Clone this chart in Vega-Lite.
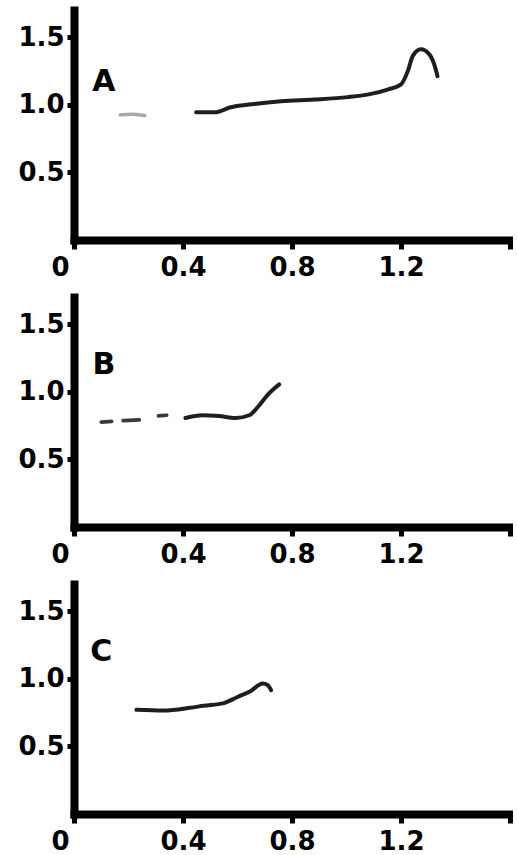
{
  "$schema": "https://vega.github.io/schema/vega-lite/v6.json",
  "background": "white",
  "padding": {"left": 17, "top": 10, "right": 0, "bottom": 0},
  "spacing": 57,
  "bounds": "flush",
  "datasets": {
    "curves": [
      {"panel": "A", "seg": "a1", "trace": "faint", "i": 1, "x": 0.17, "y": 0.925},
      {"panel": "A", "seg": "a1", "trace": "faint", "i": 2, "x": 0.21, "y": 0.93},
      {"panel": "A", "seg": "a1", "trace": "faint", "i": 3, "x": 0.26, "y": 0.92},
      {"panel": "A", "seg": "a2", "trace": "solid", "i": 1, "x": 0.448, "y": 0.944},
      {"panel": "A", "seg": "a2", "trace": "solid", "i": 2, "x": 0.515, "y": 0.944},
      {"panel": "A", "seg": "a2", "trace": "solid", "i": 3, "x": 0.576, "y": 0.981},
      {"panel": "A", "seg": "a2", "trace": "solid", "i": 4, "x": 0.662, "y": 1.006},
      {"panel": "A", "seg": "a2", "trace": "solid", "i": 5, "x": 0.76, "y": 1.026},
      {"panel": "A", "seg": "a2", "trace": "solid", "i": 6, "x": 0.881, "y": 1.038},
      {"panel": "A", "seg": "a2", "trace": "solid", "i": 7, "x": 1.004, "y": 1.056},
      {"panel": "A", "seg": "a2", "trace": "solid", "i": 8, "x": 1.09, "y": 1.08},
      {"panel": "A", "seg": "a2", "trace": "solid", "i": 9, "x": 1.151, "y": 1.112},
      {"panel": "A", "seg": "a2", "trace": "solid", "i": 10, "x": 1.2, "y": 1.15},
      {"panel": "A", "seg": "a2", "trace": "solid", "i": 11, "x": 1.225, "y": 1.248},
      {"panel": "A", "seg": "a2", "trace": "solid", "i": 12, "x": 1.243, "y": 1.359},
      {"panel": "A", "seg": "a2", "trace": "solid", "i": 13, "x": 1.273, "y": 1.409},
      {"panel": "A", "seg": "a2", "trace": "solid", "i": 14, "x": 1.304, "y": 1.372},
      {"panel": "A", "seg": "a2", "trace": "solid", "i": 15, "x": 1.322, "y": 1.298},
      {"panel": "A", "seg": "a2", "trace": "solid", "i": 16, "x": 1.334, "y": 1.211},
      {"panel": "B", "seg": "b1", "trace": "dash", "i": 1, "x": 0.10, "y": 0.776},
      {"panel": "B", "seg": "b1", "trace": "dash", "i": 2, "x": 0.138, "y": 0.78},
      {"panel": "B", "seg": "b2", "trace": "dash", "i": 1, "x": 0.18, "y": 0.786},
      {"panel": "B", "seg": "b2", "trace": "dash", "i": 2, "x": 0.24, "y": 0.792},
      {"panel": "B", "seg": "b3", "trace": "dash", "i": 1, "x": 0.31, "y": 0.822},
      {"panel": "B", "seg": "b3", "trace": "dash", "i": 2, "x": 0.34, "y": 0.826},
      {"panel": "B", "seg": "b4", "trace": "solid", "i": 1, "x": 0.409, "y": 0.806},
      {"panel": "B", "seg": "b4", "trace": "solid", "i": 2, "x": 0.47, "y": 0.826},
      {"panel": "B", "seg": "b4", "trace": "solid", "i": 3, "x": 0.532, "y": 0.82},
      {"panel": "B", "seg": "b4", "trace": "solid", "i": 4, "x": 0.593, "y": 0.806},
      {"panel": "B", "seg": "b4", "trace": "solid", "i": 5, "x": 0.643, "y": 0.826},
      {"panel": "B", "seg": "b4", "trace": "solid", "i": 6, "x": 0.68, "y": 0.90},
      {"panel": "B", "seg": "b4", "trace": "solid", "i": 7, "x": 0.71, "y": 0.975},
      {"panel": "B", "seg": "b4", "trace": "solid", "i": 8, "x": 0.753, "y": 1.054},
      {"panel": "C", "seg": "c1", "trace": "solid", "i": 1, "x": 0.229, "y": 0.77},
      {"panel": "C", "seg": "c1", "trace": "solid", "i": 2, "x": 0.328, "y": 0.765},
      {"panel": "C", "seg": "c1", "trace": "solid", "i": 3, "x": 0.426, "y": 0.785},
      {"panel": "C", "seg": "c1", "trace": "solid", "i": 4, "x": 0.476, "y": 0.80},
      {"panel": "C", "seg": "c1", "trace": "solid", "i": 5, "x": 0.55, "y": 0.82},
      {"panel": "C", "seg": "c1", "trace": "solid", "i": 6, "x": 0.60, "y": 0.865},
      {"panel": "C", "seg": "c1", "trace": "solid", "i": 7, "x": 0.649, "y": 0.91},
      {"panel": "C", "seg": "c1", "trace": "solid", "i": 8, "x": 0.692, "y": 0.965},
      {"panel": "C", "seg": "c1", "trace": "solid", "i": 9, "x": 0.711, "y": 0.952},
      {"panel": "C", "seg": "c1", "trace": "solid", "i": 10, "x": 0.723, "y": 0.915}
    ],
    "letters": [
      {"panel": "A", "label": "A", "x": 0.11, "y": 1.17},
      {"panel": "B", "label": "B", "x": 0.11, "y": 1.20},
      {"panel": "C", "label": "C", "x": 0.10, "y": 1.20}
    ]
  },
  "config": {
    "view": {"stroke": null},
    "axis": {
      "grid": false,
      "title": null,
      "domainColor": "black",
      "domainWidth": 8,
      "domainCap": "square",
      "tickColor": "black",
      "tickWidth": 5,
      "labelColor": "black",
      "labelFont": "DejaVu Sans",
      "labelFontWeight": "bold",
      "labelFontSize": 26,
      "labelOverlap": false,
      "labelFlush": false
    }
  },
  "vconcat": [
    {
      "width": 436, "height": 230,
      "layer": [
        {
          "data": {"name": "curves"},
          "transform": [{"filter": "datum.panel === 'A'"}],
          "mark": {"type": "line", "interpolate": "monotone", "strokeCap": "round"},
          "encoding": {
            "x": {"field": "x", "type": "quantitative", "scale": {"domain": [0, 1.6], "nice": false, "zero": false},
              "axis": {"values": [0, 0.4, 0.8, 1.2, 1.6], "tickSize": 9, "labelPadding": 5,
                "labelExpr": "datum.value == 0 ? '0' : (datum.value > 1.5 ? '' : format(datum.value, '.1f'))",
                "labelOffset": {"condition": {"test": "datum.value == 0", "value": -14}, "value": 0}}},
            "y": {"field": "y", "type": "quantitative", "scale": {"domain": [0, 1.7], "nice": false},
              "axis": {"values": [0.5, 1.0, 1.5], "format": ".1f", "tickSize": 7, "labelPadding": 3}},
            "detail": {"field": "seg"},
            "order": {"field": "i"},
            "color": {"field": "trace", "type": "nominal", "scale": {"domain": ["solid", "dash", "faint"], "range": ["#1e1e1e", "#3a3a3a", "#a8a8a8"]}, "legend": null},
            "strokeWidth": {"field": "trace", "type": "nominal", "scale": {"domain": ["solid", "dash", "faint"], "range": [4, 3.5, 2]}, "legend": null}
          }
        },
        {
          "data": {"name": "letters"},
          "transform": [{"filter": "datum.panel === 'A'"}],
          "mark": {"type": "text", "font": "DejaVu Sans", "fontWeight": "bold", "fontSize": 30, "align": "center", "baseline": "middle", "color": "black"},
          "encoding": {
            "x": {"field": "x", "type": "quantitative"},
            "y": {"field": "y", "type": "quantitative"},
            "text": {"field": "label"}
          }
        }
      ]
    },
    {
      "width": 436, "height": 230,
      "layer": [
        {
          "data": {"name": "curves"},
          "transform": [{"filter": "datum.panel === 'B'"}],
          "mark": {"type": "line", "interpolate": "monotone", "strokeCap": "round"},
          "encoding": {
            "x": {"field": "x", "type": "quantitative", "scale": {"domain": [0, 1.6], "nice": false, "zero": false},
              "axis": {"values": [0, 0.4, 0.8, 1.2, 1.6], "tickSize": 9, "labelPadding": 5,
                "labelExpr": "datum.value == 0 ? '0' : (datum.value > 1.5 ? '' : format(datum.value, '.1f'))",
                "labelOffset": {"condition": {"test": "datum.value == 0", "value": -14}, "value": 0}}},
            "y": {"field": "y", "type": "quantitative", "scale": {"domain": [0, 1.7], "nice": false},
              "axis": {"values": [0.5, 1.0, 1.5], "format": ".1f", "tickSize": 7, "labelPadding": 3}},
            "detail": {"field": "seg"},
            "order": {"field": "i"},
            "color": {"field": "trace", "type": "nominal", "scale": {"domain": ["solid", "dash", "faint"], "range": ["#1e1e1e", "#3a3a3a", "#a8a8a8"]}, "legend": null},
            "strokeWidth": {"field": "trace", "type": "nominal", "scale": {"domain": ["solid", "dash", "faint"], "range": [4, 3.5, 2]}, "legend": null}
          }
        },
        {
          "data": {"name": "letters"},
          "transform": [{"filter": "datum.panel === 'B'"}],
          "mark": {"type": "text", "font": "DejaVu Sans", "fontWeight": "bold", "fontSize": 30, "align": "center", "baseline": "middle", "color": "black"},
          "encoding": {
            "x": {"field": "x", "type": "quantitative"},
            "y": {"field": "y", "type": "quantitative"},
            "text": {"field": "label"}
          }
        }
      ]
    },
    {
      "width": 436, "height": 230,
      "layer": [
        {
          "data": {"name": "curves"},
          "transform": [{"filter": "datum.panel === 'C'"}],
          "mark": {"type": "line", "interpolate": "monotone", "strokeCap": "round"},
          "encoding": {
            "x": {"field": "x", "type": "quantitative", "scale": {"domain": [0, 1.6], "nice": false, "zero": false},
              "axis": {"values": [0, 0.4, 0.8, 1.2, 1.6], "tickSize": 9, "labelPadding": 5,
                "labelExpr": "datum.value == 0 ? '0' : (datum.value > 1.5 ? '' : format(datum.value, '.1f'))",
                "labelOffset": {"condition": {"test": "datum.value == 0", "value": -14}, "value": 0}}},
            "y": {"field": "y", "type": "quantitative", "scale": {"domain": [0, 1.7], "nice": false},
              "axis": {"values": [0.5, 1.0, 1.5], "format": ".1f", "tickSize": 7, "labelPadding": 3}},
            "detail": {"field": "seg"},
            "order": {"field": "i"},
            "color": {"field": "trace", "type": "nominal", "scale": {"domain": ["solid", "dash", "faint"], "range": ["#1e1e1e", "#3a3a3a", "#a8a8a8"]}, "legend": null},
            "strokeWidth": {"field": "trace", "type": "nominal", "scale": {"domain": ["solid", "dash", "faint"], "range": [4, 3.5, 2]}, "legend": null}
          }
        },
        {
          "data": {"name": "letters"},
          "transform": [{"filter": "datum.panel === 'C'"}],
          "mark": {"type": "text", "font": "DejaVu Sans", "fontWeight": "bold", "fontSize": 30, "align": "center", "baseline": "middle", "color": "black"},
          "encoding": {
            "x": {"field": "x", "type": "quantitative"},
            "y": {"field": "y", "type": "quantitative"},
            "text": {"field": "label"}
          }
        }
      ]
    }
  ]
}
